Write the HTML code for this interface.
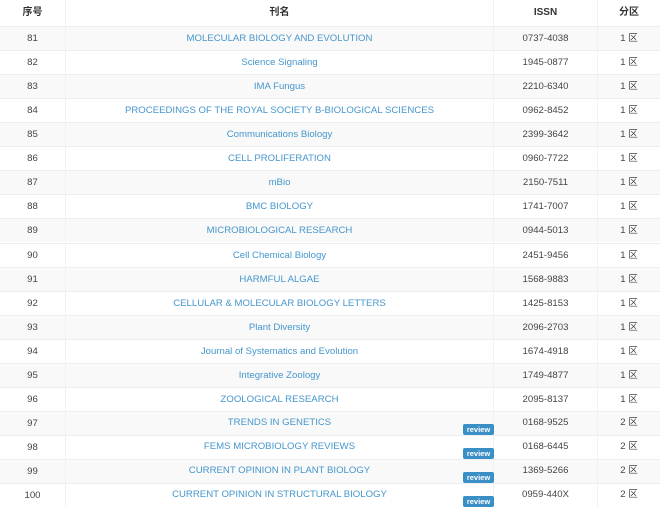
<!DOCTYPE html>
<html><head><meta charset="utf-8"><style>
body{margin:0;width:660px;height:513px;background:#fff;font-family:"Liberation Sans","Noto Sans CJK SC",sans-serif;font-size:9.6px;color:#444;position:relative;overflow:hidden}
.r{position:absolute;left:0;width:660px;height:24px;border-top:1px solid #eeeeee;box-sizing:border-box}
.r.o{background:#f9f9f9}
.c{position:absolute;top:0;height:23px;line-height:24px;text-align:center;box-sizing:border-box}
.c1{left:0;width:66px;border-right:1px solid #f2f2f2}
.c2{left:66px;width:428px;color:#4596cc;border-right:1px solid #f2f2f2}
.c3{left:494px;width:104px;border-right:1px solid #f2f2f2}
.c4{left:598px;width:62px}
.h .c{font-weight:bold;color:#333;font-size:10px}
.b{position:absolute;left:463px;top:12px;width:31px;height:11px;background:#3a8fc6;color:#fff;font-size:7.5px;font-weight:bold;line-height:11px;text-align:center;border-radius:2px}
.t{line-height:22px}
</style></head><body>
<div class="r h" style="top:0;height:26px;border-top:none"><div class="c c1" style="height:26px;line-height:26px">序号</div><div class="c c2" style="height:26px;line-height:26px;color:#333">刊名</div><div class="c c3" style="height:26px;line-height:26px">ISSN</div><div class="c c4" style="height:26px;line-height:26px">分区</div></div>
<div id="rows"></div>
<script>
var d=[["MOLECULAR BIOLOGY AND EVOLUTION","0737-4038",1],["Science Signaling","1945-0877",1],["IMA Fungus","2210-6340",1],["PROCEEDINGS OF THE ROYAL SOCIETY B-BIOLOGICAL SCIENCES","0962-8452",1],["Communications Biology","2399-3642",1],["CELL PROLIFERATION","0960-7722",1],["mBio","2150-7511",1],["BMC BIOLOGY","1741-7007",1],["MICROBIOLOGICAL RESEARCH","0944-5013",1],["Cell Chemical Biology","2451-9456",1],["HARMFUL ALGAE","1568-9883",1],["CELLULAR & MOLECULAR BIOLOGY LETTERS","1425-8153",1],["Plant Diversity","2096-2703",1],["Journal of Systematics and Evolution","1674-4918",1],["Integrative Zoology","1749-4877",1],["ZOOLOGICAL RESEARCH","2095-8137",1],["TRENDS IN GENETICS","0168-9525",2],["FEMS MICROBIOLOGY REVIEWS","0168-6445",2],["CURRENT OPINION IN PLANT BIOLOGY","1369-5266",2],["CURRENT OPINION IN STRUCTURAL BIOLOGY","0959-440X",2]];
var h="";
d.forEach(function(x,i){var top=(26+i*24.05).toFixed(1);var rv=i>=16;
h+='<div class="r'+(i%2==0?' o':'')+'" style="top:'+top+'px"><div class="c c1">'+(81+i)+'</div><div class="c c2'+(rv?' t':'')+'">'+x[0].replace('&','&amp;')+'</div><div class="c c3'+(rv?' t':'')+'">'+x[1]+'</div><div class="c c4'+(rv?' t':'')+'">'+x[2]+' 区</div>'+(rv?'<div class="b">review</div>':'')+'</div>';});
document.getElementById("rows").innerHTML=h;
</script>
</body></html>
